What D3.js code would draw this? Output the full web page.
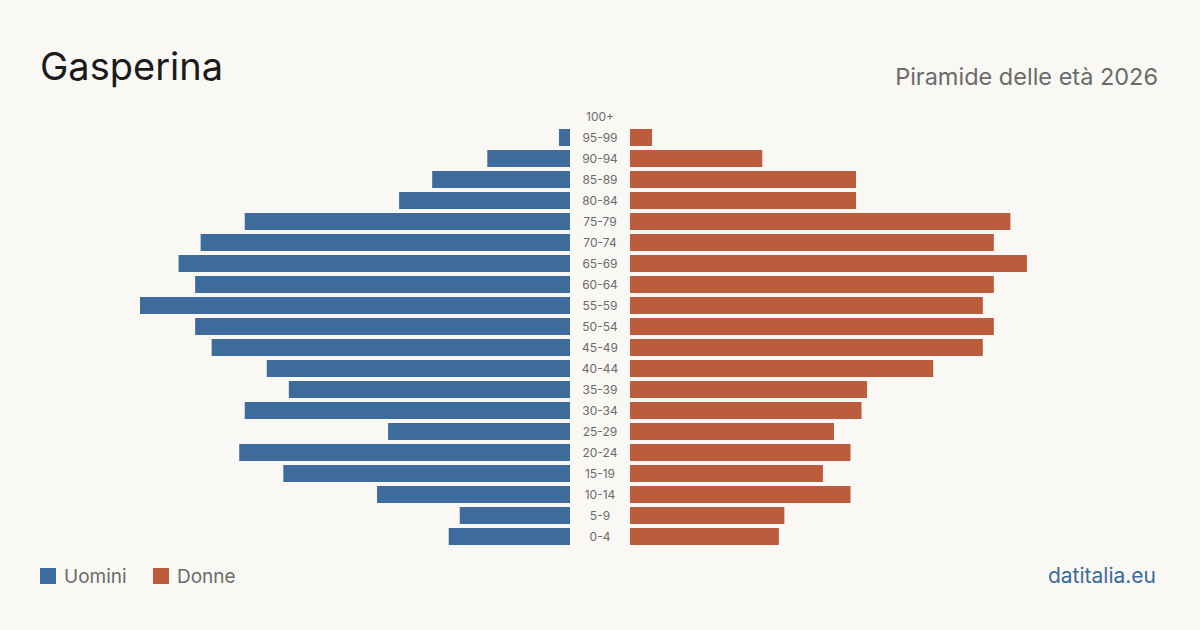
<!DOCTYPE html>
<html>
<head>
<meta charset="utf-8">
<script src="https://cdn.jsdelivr.net/npm/d3@7"></script>
<style>
  html, body { margin: 0; padding: 0; background: #f9f8f4; }
  svg { display: block; font-family: Inter, "Noto Sans", sans-serif; }
</style>
</head>
<body>
<svg id="chart" width="1200" height="630"></svg>
<script>
// age groups, top to bottom
const ageGroups = ["100+", "95-99", "90-94", "85-89", "80-84", "75-79", "70-74", "65-69",
  "60-64", "55-59", "50-54", "45-49", "40-44", "35-39", "30-34", "25-29",
  "20-24", "15-19", "10-14", "5-9", "0-4"];
const men   = [0, 2, 15, 25, 31, 59, 67, 71, 68, 78, 68, 65, 55, 51, 59, 33, 60, 52, 35, 20, 22];
const women = [0, 4, 24, 41, 41, 69, 66, 72, 66, 64, 66, 64, 55, 43, 42, 37, 40, 35, 40, 28, 27];

const title = "Gasperina";
const subtitle = "Piramide delle età 2026";
const source = "datitalia.eu";

const blue = "#3c6b9c", red = "#bb5d3c";
const svg = d3.select("#chart");

const maxVal = d3.max(men.concat(women));
const xMen = d3.scaleLinear().domain([0, maxVal]).range([570, 140]);
const xWomen = d3.scaleLinear().domain([0, maxVal]).range([630, 1060]);
const y = d3.scaleBand().domain(ageGroups).range([106, 547])
  .paddingInner(4 / 21).paddingOuter(2 / 21);

svg.append("text").attr("x", 40).attr("y", 80)
  .attr("font-size", 38).attr("fill", "#1b1b1b").text(title);

svg.append("text").attr("x", 1158).attr("y", 85).attr("text-anchor", "end")
  .attr("font-size", 23.5).attr("fill", "#6b6b6b").text(subtitle);

svg.append("g").selectAll("rect")
  .data(ageGroups.map((a, i) => ({ age: a, v: men[i] })))
  .join("rect")
  .attr("x", d => xMen(d.v))
  .attr("y", d => y(d.age))
  .attr("width", d => xMen(0) - xMen(d.v))
  .attr("height", y.bandwidth())
  .attr("fill", blue);

svg.append("g").selectAll("rect")
  .data(ageGroups.map((a, i) => ({ age: a, v: women[i] })))
  .join("rect")
  .attr("x", xWomen(0))
  .attr("y", d => y(d.age))
  .attr("width", d => xWomen(d.v) - xWomen(0))
  .attr("height", y.bandwidth())
  .attr("fill", red);

svg.append("g").selectAll("text")
  .data(ageGroups)
  .join("text")
  .attr("x", 600)
  .attr("y", d => y(d) + y.bandwidth() / 2)
  .attr("dy", "0.35em")
  .attr("text-anchor", "middle")
  .attr("font-size", 12)
  .attr("fill", "#6b6b6b")
  .text(d => d);

// legend
const legend = [{ label: "Uomini", color: blue, x: 40 }, { label: "Donne", color: red, x: 153 }];
const lg = svg.append("g").selectAll("g").data(legend).join("g")
  .attr("transform", d => `translate(${d.x},568)`);
lg.append("rect").attr("width", 16).attr("height", 16).attr("fill", d => d.color);
lg.append("text").attr("x", 24).attr("y", 15).attr("font-size", 19)
  .attr("fill", "#6b6b6b").text(d => d.label);

svg.append("text").attr("x", 1156).attr("y", 583).attr("text-anchor", "end")
  .attr("font-size", 21).attr("fill", blue).text(source);
</script>
</body>
</html>
